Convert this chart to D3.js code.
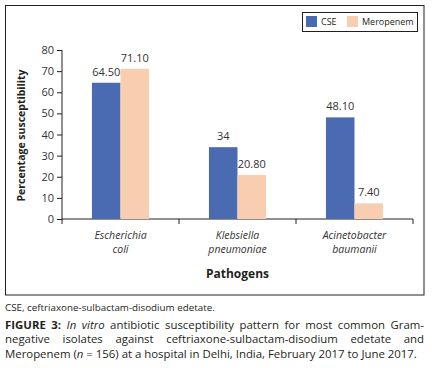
<!DOCTYPE html>
<html>
<head>
<meta charset="utf-8">
<script src="https://cdn.jsdelivr.net/npm/d3@7"></script>
<style>
  body { margin: 0; background: #fff; font-family: "Open Sans", sans-serif; }
  #chart { position: absolute; left: 0; top: 0; }
  .cap { position: absolute; left: 5px; width: 419px; color: #231f20; }
  .note { top: 301px; font-size: 9.8px; }
  .fig { top: 318px; font-size: 11.4px; line-height: 14.3px; }
  .fig span { display: block; text-align: justify; text-align-last: justify; }
  .fig span.last { text-align-last: left; }
</style>
</head>
<body>
<div id="chart"></div>
<div class="cap note">CSE, ceftriaxone-sulbactam-disodium edetate.</div>
<div class="cap fig">
  <span><b>FIGURE 3:</b> <i>In vitro</i> antibiotic susceptibility pattern for most common Gram-</span>
  <span>negative isolates against ceftriaxone-sulbactam-disodium edetate and</span>
  <span class="last">Meropenem (<i>n</i> = 156) at a hospital in Delhi, India, February 2017 to June 2017.</span>
</div>
<script>
// pathogens and series
let pathogens = ["Escherichia coli", "Klebsiella pneumoniae", "Acinetobacter baumanii"];
let pathogenLines = [["Escherichia", "coli"], ["Klebsiella", "pneumoniae"], ["Acinetobacter", "baumanii"]];
let series = ["CSE", "Meropenem"];
let cseValues = [64.5, 34, 48.1];
let meropenemValues = [71.1, 20.8, 7.4];
let valueLabels = [["64.50", "71.10"], ["34", "20.80"], ["48.10", "7.40"]];
let yTicks = [0, 10, 20, 30, 40, 50, 60, 70, 80];

let colors = { "CSE": "#4a6ab2", "Meropenem": "#f8cdb0" };

let svg = d3.select("#chart").append("svg")
    .attr("width", 435)
    .attr("height", 300);

// outer frame
svg.append("rect")
    .attr("x", 5.5).attr("y", 5.5)
    .attr("width", 418.5).attr("height", 289.5)
    .attr("fill", "none").attr("stroke", "#231f20");

let plotLeft = 62, plotRight = 413, plotTop = 50, plotBottom = 219;

let x0 = d3.scaleBand().domain(pathogens).range([plotLeft, plotRight]).padding(0);
let x1 = d3.scaleBand().domain(series).range([0, x0.bandwidth()]).paddingInner(0).paddingOuter(1.05);
let y = d3.scaleLinear().domain([0, 80]).range([plotBottom, plotTop]);

let data = pathogens.map(function(p, i) {
  return { name: p, lines: pathogenLines[i], values: [cseValues[i], meropenemValues[i]], labels: valueLabels[i] };
});

// y axis
let yAxis = svg.append("g")
    .attr("transform", `translate(${plotLeft},0)`)
    .call(d3.axisLeft(y).tickValues(yTicks).tickSize(5).tickPadding(3));
yAxis.select(".domain").attr("stroke", "#231f20").attr("d", `M0,${plotTop}V${plotBottom}`);
yAxis.selectAll(".tick line").attr("stroke", "#231f20");
yAxis.selectAll("text").attr("font-family", "Open Sans").attr("font-size", 11).attr("fill", "#333");

// x axis, ticks between categories
let xAxis = svg.append("g").attr("transform", `translate(0,${plotBottom})`);
xAxis.append("line")
    .attr("x1", plotLeft).attr("x2", plotRight)
    .attr("stroke", "#231f20");
let bounds = pathogens.map(function(p) { return x0(p); }).concat([plotRight]);
xAxis.selectAll(".bt").data(bounds).enter().append("line")
    .attr("x1", d => d).attr("x2", d => d)
    .attr("y1", 0).attr("y2", 5)
    .attr("stroke", "#231f20");

// bars
let groups = svg.selectAll(".grp").data(data).enter().append("g")
    .attr("transform", d => `translate(${x0(d.name)},0)`);

groups.selectAll("rect")
    .data(d => series.map((s, j) => ({ s: s, v: d.values[j], lab: d.labels[j] })))
    .enter().append("rect")
    .attr("x", d => x1(d.s))
    .attr("width", x1.bandwidth())
    .attr("y", d => y(d.v))
    .attr("height", d => y(0) - y(d.v))
    .attr("fill", d => colors[d.s]);

groups.selectAll(".val")
    .data(d => series.map((s, j) => ({ s: s, v: d.values[j], lab: d.labels[j] })))
    .enter().append("text")
    .attr("x", d => x1(d.s) + x1.bandwidth() / 2)
    .attr("y", d => y(d.v) - 7)
    .attr("text-anchor", "middle")
    .attr("font-size", 11)
    .attr("fill", "#333")
    .text(d => d.lab);

// category labels
groups.each(function(d) {
  let t = d3.select(this).append("text")
      .attr("text-anchor", "middle")
      .attr("font-size", 10.5)
      .attr("font-style", "italic")
      .attr("fill", "#333");
  d.lines.forEach(function(l, k) {
    t.append("tspan")
      .attr("x", x0.bandwidth() / 2)
      .attr("y", 239 + k * 14)
      .text(l);
  });
});

// axis titles
svg.append("text")
    .attr("x", (plotLeft + plotRight) / 2).attr("y", 278)
    .attr("text-anchor", "middle")
    .attr("font-weight", "bold").attr("font-size", 12)
    .attr("fill", "#231f20")
    .text("Pathogens");

svg.append("text")
    .attr("transform", `translate(25,${(plotTop + plotBottom) / 2 + 1})rotate(-90)`)
    .attr("text-anchor", "middle")
    .attr("font-weight", "bold").attr("font-size", 10.5)
    .attr("fill", "#231f20")
    .text("Percentage susceptibility");

// legend
let legend = svg.append("g");
legend.append("rect")
    .attr("x", 302.5).attr("y", 12.5)
    .attr("width", 115).attr("height", 19)
    .attr("fill", "#fff").attr("stroke", "#231f20");
let legendX = [306, 347];
series.forEach(function(s, i) {
  legend.append("rect")
    .attr("x", legendX[i]).attr("y", 16)
    .attr("width", 11).attr("height", 11)
    .attr("fill", colors[s]);
  legend.append("text")
    .attr("x", legendX[i] + 15).attr("y", 25)
    .attr("font-size", 9)
    .attr("fill", "#231f20")
    .text(s);
});
</script>
</body>
</html>
